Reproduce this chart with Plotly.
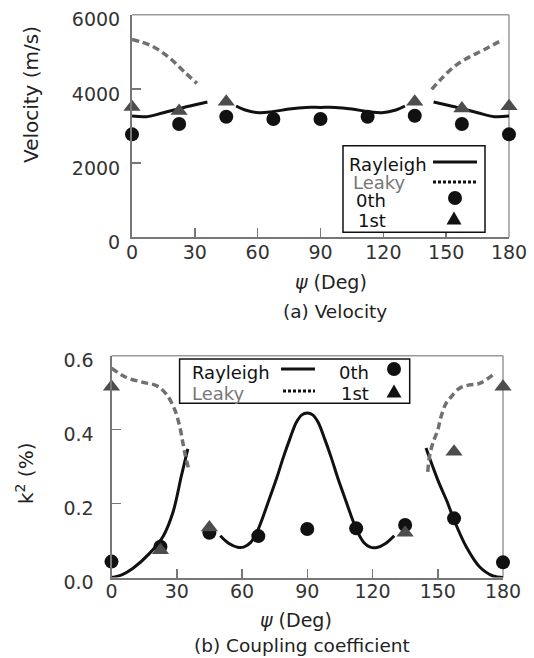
import plotly.graph_objects as go

# ---------------- data ----------------
angles_pts = [0, 22.5, 45, 67.5, 90, 112.5, 135, 157.5, 180]
angles_1st = [0, 22.5, 45, 135, 157.5, 180]

vel_0th = [2775, 3053, 3251, 3188, 3188, 3251, 3278, 3053, 2775]
vel_1st = [3510, 3403, 3655, 3655, 3475, 3530]

ray_v_ang = [0, 7, 15, 23, 29.7, 36, None,
             49.7, 54, 60.6, 67, 75, 83, 90, 97, 105, 113, 119.4, 126, 130.3, None,
             144, 150.3, 157, 165, 173, 180]
ray_v_val = [3268, 3250, 3358, 3475, 3565, 3646, None,
             3538, 3430, 3358, 3385, 3457, 3502, 3502, 3502, 3457, 3385, 3358, 3430, 3538, None,
             3646, 3565, 3475, 3358, 3250, 3268]

leaky_v_ang = [0, 8.6, 15.1, 20, 24.9, 31, None,
               143.1, 148.3, 154.8, 161.3, 167.8, 177.2]
leaky_v_val = [5334, 5181, 4957, 4733, 4463, 4149, None,
               3987, 4310, 4643, 4867, 5047, 5334]

k2_0th = [0.043, 0.083, 0.121, 0.112, 0.131, 0.133, 0.142, 0.160, 0.041]
k2_1st = [0.516, 0.074, 0.135, 0.121, 0.340, 0.516]

ray_k_ang = [0, 5, 9.9, 17.6, 23.7, 28.2, 32.1, 35.1, None,
             50, 54, 58, 61, 64, 67, 70, 73, 76, 79, 82, 85, 87.5, 90,
             92.5, 95, 98, 101, 104, 107, 110, 113, 116, 119, 122, 126, 130, None,
             144.6, 150, 154.6, 157.2, 163.1, 169.2, 175.4, 180]
ray_k_val = [0, 0.008, 0.025, 0.066, 0.111, 0.175, 0.274, 0.348, None,
             0.113, 0.092, 0.082, 0.083, 0.095, 0.125, 0.17, 0.22, 0.27, 0.325, 0.375, 0.42, 0.44, 0.445,
             0.44, 0.42, 0.375, 0.325, 0.27, 0.22, 0.17, 0.125, 0.095, 0.082, 0.081, 0.092, 0.113, None,
             0.35, 0.264, 0.201, 0.16, 0.083, 0.029, 0.004, 0]

leaky_k_ang = [0, 6.9, 14.5, 20.6, 25.2, 29, 31.3, 32.8, 34, 35.6, None,
               145.4, 146.2, 147.7, 150, 151.5, 153.8, 156.2, 160, 164.6, 169.2, 176.2]
leaky_k_val = [0.566, 0.541, 0.528, 0.519, 0.496, 0.455, 0.41, 0.365, 0.329, 0.292, None,
               0.286, 0.327, 0.363, 0.399, 0.435, 0.471, 0.489, 0.512, 0.521, 0.525, 0.552]

x_ticks = [0, 30, 60, 90, 120, 150, 180]
vel_ticks = [0, 2000, 4000, 6000]
k2_ticks = [0.0, 0.2, 0.4, 0.6]
k2_ticklabels = ["0.0", "0.2", "0.4", "0.6"]

# ---------------- styles ----------------
W, H = 534, 658
FONT = "DejaVu Sans"
BLACK = "#111111"
TRI = "#4d4d4d"
DASH = "#707070"
AX = "#777777"


def PX(x):
    return x / W


def PY(y):
    return 1 - y / H


fig = go.Figure()

# top panel traces
fig.add_trace(go.Scatter(x=ray_v_ang, y=ray_v_val, mode="lines", line=dict(color=BLACK, width=3, shape="spline"),
                         connectgaps=False, xaxis="x", yaxis="y", showlegend=False))
fig.add_trace(go.Scatter(x=leaky_v_ang, y=leaky_v_val, mode="lines",
                         line=dict(color=DASH, width=3.5, dash="7px,4px", shape="spline"),
                         connectgaps=False, xaxis="x", yaxis="y", showlegend=False))
fig.add_trace(go.Scatter(x=angles_pts, y=vel_0th, mode="markers", cliponaxis=False,
                         marker=dict(symbol="circle", size=14, color=BLACK), xaxis="x", yaxis="y", showlegend=False))
fig.add_trace(go.Scatter(x=angles_1st, y=vel_1st, mode="markers", cliponaxis=False,
                         marker=dict(symbol="triangle-up", size=15, color=TRI), xaxis="x", yaxis="y", showlegend=False))

# bottom panel traces
fig.add_trace(go.Scatter(x=ray_k_ang, y=ray_k_val, mode="lines", line=dict(color=BLACK, width=3, shape="spline"),
                         connectgaps=False, xaxis="x2", yaxis="y2", showlegend=False))
fig.add_trace(go.Scatter(x=leaky_k_ang, y=leaky_k_val, mode="lines",
                         line=dict(color=DASH, width=3.5, dash="7px,4px", shape="spline"),
                         connectgaps=False, xaxis="x2", yaxis="y2", showlegend=False))
fig.add_trace(go.Scatter(x=angles_pts, y=k2_0th, mode="markers", cliponaxis=False,
                         marker=dict(symbol="circle", size=14, color=BLACK), xaxis="x2", yaxis="y2", showlegend=False))
fig.add_trace(go.Scatter(x=angles_1st, y=k2_1st, mode="markers", cliponaxis=False,
                         marker=dict(symbol="triangle-up", size=15, color=TRI), xaxis="x2", yaxis="y2", showlegend=False))

axis_common = dict(showgrid=False, zeroline=False, showline=True, linecolor=AX, linewidth=2,
                   ticks="inside", ticklen=9, tickwidth=1.5, tickcolor=AX, automargin=False,
                   ticklabeloverflow="allow",
                   tickfont=dict(family=FONT, size=19, color="#333333"))

top_x = [132, 509]
top_y = [14.7, 237.3]
bot_x = [111.5, 503]
bot_y = [355.7, 577.5]

fig.update_layout(
    width=W, height=H, autosize=False,
    margin=dict(l=0, r=0, t=0, b=0, pad=0),
    paper_bgcolor="white", plot_bgcolor="white",
    hovermode=False,
    xaxis=dict(domain=[PX(top_x[0]), PX(top_x[1])], range=[0, 180], tickvals=x_ticks, anchor="y",
               ticklabelstandoff=-3, **axis_common),
    yaxis=dict(domain=[PY(top_y[1]), PY(top_y[0])], range=[0, 6000], tickvals=vel_ticks, anchor="x",
               ticklabelshift=5, ticklabelstandoff=6, **axis_common),
    xaxis2=dict(domain=[PX(bot_x[0]), PX(bot_x[1])], range=[0, 180], tickvals=x_ticks, anchor="y2",
                ticklabelstandoff=-4, **axis_common),
    yaxis2=dict(domain=[PY(bot_y[1]), PY(bot_y[0])], range=[0, 0.6], tickvals=k2_ticks,
                ticktext=k2_ticklabels, anchor="x2", ticklabelshift=5, ticklabelstandoff=12, **axis_common),
)

shapes = []
# light grey top/right frame lines
for (xs, ys) in [(top_x, top_y), (bot_x, bot_y)]:
    shapes.append(dict(type="line", xref="paper", yref="paper", x0=PX(xs[0]), x1=PX(xs[1]),
                       y0=PY(ys[0]), y1=PY(ys[0]), line=dict(color="#999999", width=1.5), layer="below"))
    shapes.append(dict(type="line", xref="paper", yref="paper", x0=PX(xs[1]), x1=PX(xs[1]),
                       y0=PY(ys[0]), y1=PY(ys[1]), line=dict(color="#999999", width=1.5), layer="below"))

annotations = []


def text(x, y, s, size=18, color=BLACK, xanchor="left", angle=0):
    annotations.append(dict(x=PX(x), y=PY(y), xref="paper", yref="paper", text=s, showarrow=False,
                            xanchor=xanchor, yanchor="middle", textangle=angle,
                            font=dict(family=FONT, size=size, color=color)))


def legend_box(x0, x1, y0, y1):
    shapes.append(dict(type="rect", xref="paper", yref="paper", x0=PX(x0), x1=PX(x1), y0=PY(y1), y1=PY(y0),
                       line=dict(color=BLACK, width=1.5), fillcolor="white", layer="above"))


def leg_line(x0, x1, y, dash):
    shapes.append(dict(type="line", xref="paper", yref="paper", x0=PX(x0), x1=PX(x1), y0=PY(y), y1=PY(y),
                       line=dict(color=BLACK, width=3, dash=dash), layer="above"))


def leg_circle(cx, cy, r=7):
    shapes.append(dict(type="circle", xref="paper", yref="paper", x0=PX(cx - r), x1=PX(cx + r),
                       y0=PY(cy + r), y1=PY(cy - r), line=dict(color=BLACK, width=0), fillcolor=BLACK,
                       layer="above"))


def leg_tri(cx, cy, w=15, h=13):
    p = "M {} {} L {} {} L {} {} Z".format(PX(cx - w / 2), PY(cy + h / 2), PX(cx + w / 2), PY(cy + h / 2),
                                           PX(cx), PY(cy - h / 2))
    shapes.append(dict(type="path", xref="paper", yref="paper", path=p, line=dict(color=BLACK, width=0),
                       fillcolor=BLACK, layer="above"))


# top legend
legend_box(343, 485, 145.7, 232.3)
text(347, 164, "Rayleigh")
leg_line(433, 477, 162, "solid")
text(351, 182, "Leaky", color="#777777")
leg_line(433, 477, 182, "3px,2px")
text(354, 201, "0th")
leg_circle(455, 198)
text(356, 221, "1st")
leg_tri(454, 218)

# bottom legend
legend_box(179.6, 409.7, 359, 403.3)
text(190, 372, "Rayleigh")
leg_line(281, 315, 369, "solid")
text(190, 393, "Leaky", color="#777777")
leg_line(283, 315, 391, "3px,2px")
text(337, 373, "0th")
leg_circle(394, 369)
text(339, 393, "1st")
leg_tri(394, 391)

# axis titles and captions
text(31, 95, "Velocity (m/s)", size=20, color="#222222", xanchor="center", angle=-90)
text(25, 474, "k<sup>2</sup> (%)", size=20, color="#222222", xanchor="center", angle=-90)
text(331, 282, "<i>ψ</i> (Deg)", size=19, color="#222222", xanchor="center")
text(335, 312, "(a) Velocity", size=18.5, color="#222222", xanchor="center")
text(296, 620, "<i>ψ</i> (Deg)", size=19, color="#222222", xanchor="center")
text(301.5, 645, "(b) Coupling coefficient", size=18.5, color="#222222", xanchor="center")

fig.update_layout(shapes=shapes, annotations=annotations)

# the page's default body margin would offset the figure by 8px; remove it
fig.write_html("out.html", config={"displayModeBar": False, "staticPlot": True},
               post_script="document.body.style.margin='0';document.body.style.overflow='hidden';")
